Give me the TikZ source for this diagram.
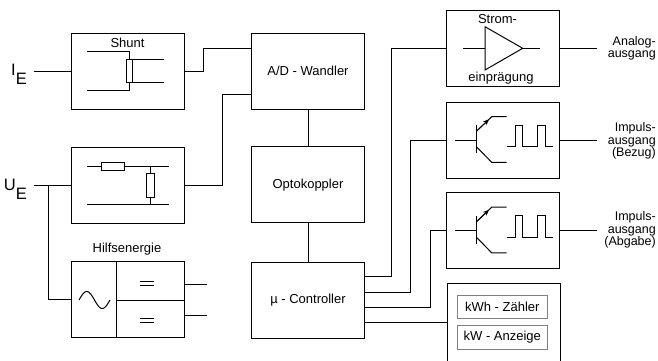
\documentclass[tikz,border=0pt]{standalone}
\usepackage{fontspec}
\setmainfont{Liberation Sans}
\usetikzlibrary{positioning, arrows.meta}

\tikzset{
  block/.style={draw, line width=1pt, minimum width=113pt, minimum height=76pt, inner sep=0pt, font=\fontsize{13}{13}\selectfont},
  wire/.style={line width=1pt},
  part/.style={line width=0.8pt},
  lbl/.style={inner sep=0pt, font=\fontsize{13}{13}\selectfont},
  outlbl/.style={inner sep=0pt, align=right, anchor=east, font=\fontsize{12.5}{12.3}\selectfont},
  biglbl/.style={inner sep=0pt, anchor=base east, font=\fontsize{16.5}{16.5}\selectfont},
  dispbox/.style={draw=gray, line width=0.7pt, minimum width=90pt, minimum height=23.3pt, inner sep=0pt, font=\fontsize{13}{13}\selectfont}
}

\begin{document}
\begin{tikzpicture}[x=1pt, y=-1pt]
            \useasboundingbox (0,0) rectangle (658,360);
            % left column
            \node[block] (shunt) at (127.5,71) {};
            \node[block] (teiler) at (127.5,185) {};
            \node[block] (hilfs) at (127.5,299.5) {};
            \node[lbl] (shuntlbl) at (127.5,42.5) {Shunt};
            \node[lbl] (hilfslbl) at (127,249.5) {Hilfsenergie};
            \node[biglbl] (ie) at (27,75) {I\raisebox{-9pt}{E}};
            \node[biglbl] (ue) at (27,190) {U\raisebox{-9pt}{E}};
            
            % middle column
            \node[block] (adw) at (308,71) {A/D - Wandler};
            \node[block] (opto) at (308,184.7) {Optokoppler};
            \node[block] (muc) at (308,300) {µ - Controller};
            
            % right column
            \node[block] (strom) at (503,48.3) {};
            \node[block] (imp1) at (503,140) {};
            \node[block] (imp2) at (503,230.5) {};
            \node[block, minimum height=80pt] (anz) at (503.5,323.5) {};
            \node[dispbox] (kwh) at (502.3,306.7) {kWh - Zähler};
            \node[dispbox] (kw) at (502.3,337.4) {kW - Anzeige};
            \node[lbl] (stromlbl) at (497.5,19.5) {Strom-};
            \node[lbl] (einlbl) at (501,78) {einprägung};
            \node[outlbl] (analog) at (656,48.5) {Analog-\\ausgang};
            \node[outlbl] (bezug) at (656,141) {Impuls-\\ausgang\\(Bezug)};
            \node[outlbl] (abgabe) at (656,230) {Impuls-\\ausgang\\(Abgabe)};
            
            \coordinate (ad1) at ([yshift=22.7pt]adw.west);
            \coordinate (ad2) at ([yshift=-23pt]adw.west);
            \coordinate (uej) at ([xshift=-22pt]teiler.west);
            
            % inputs
            \draw[wire, shorten <=7pt] (ie.east |- shunt.west) -- (shunt.west);
            \draw[wire, shorten <=7pt] (ue.east |- teiler.west) -- (teiler.west);
            \draw[wire] (uej) |- (hilfs.west);
            \draw[wire] (shunt.east) -- ++(19,0) |- (ad1);
            \draw[wire] (teiler.east) -- ++(38,0) |- (ad2);
            \draw[wire] ([yshift=15.5pt]hilfs.east) -- ++(22.7,0);
            \draw[wire] ([yshift=-15.5pt]hilfs.east) -- ++(22.7,0);
            
            \draw[wire] (adw) -- (opto);
            \draw[wire] (opto) -- (muc);
            
            % controller outputs
            \draw[wire] ([yshift=23.5pt]muc.east) -- ++(26,0) |- (strom.west);
            \draw[wire] ([yshift=8pt]muc.east) -- ++(45.5,0) |- (imp1.west);
            \draw[wire] ([yshift=-7.5pt]muc.east) -- ++(65,0) |- (imp2.west);
            \draw[wire] ([yshift=-22pt]muc.east) -- ([yshift=-22pt]muc.east -| anz.west);
            
            \draw[wire] (strom.east) -- ++(37.4,0);
            \draw[wire] (imp1.east) -- ++(37.4,0);
            \draw[wire] (imp2.east) -- ++(37.4,0);
            
            % shunt
            \draw[wire] (87,51.7) -- (129,51.7) -- (129,59);
            \draw[wire] (87,90.7) -- (129,90.7) -- (129,82);
            \draw[part] (126,59) rectangle (132,82);
            \draw[wire] (132,59.5) -- (164,59.5);
            \draw[wire] (132,82) -- (164,82);
            
            % divider
            \draw[wire] (87,166) -- (101.7,166);
            \draw[part] (101.7,162.7) rectangle (124.3,170);
            \draw[wire] (124.3,166) -- (169.3,166);
            \draw[wire] (150.5,166) -- (150.5,173.3);
            \draw[part] (146.7,173.3) rectangle (154.3,197.7);
            \draw[wire] (150.5,197.7) -- (150.5,204.7);
            \draw[wire] (87,204.7) -- (169.3,204.7);
            
            % power supply
            \draw[wire] (116.7,261.7) -- (116.7,337.3);
            \draw[wire] (116.7,300) -- (184,300);
            \draw[wire] plot[domain=0:360, smooth, samples=40] ({79+\x/360*31},{300-8.5*sin(\x)});
            \foreach \y in {281,285.5,318,322.5}
              \draw[wire] (139.5,\y) -- (154.3,\y);
            
            % current source
            \draw[wire] (463.3,48.3) -- (485,48.3);
            \draw[wire] (485,26.7) -- (522.7,48.3) -- (485,70) -- cycle;
            \draw[wire] (522.7,48.3) -- (540,48.3);
            
            % pulse outputs
            \foreach \c in {140,230.5} {
              \draw[wire] (455,\c) -- (476.7,\c);
              \draw[wire] (476.7,\c-15) -- (476.7,\c+13.3);
              \draw[wire] (476.7,\c-9) -- (491.7,\c-23.3) -- (506.7,\c-23.3);
              \draw[part, -{Stealth[length=6pt, width=5pt]}] (476.7,\c-9) -- (489,\c-20.7);
              \draw[wire] (476.7,\c+7) -- (491.7,\c+22.3) -- (506.7,\c+22.3);
              \draw[wire] (506.7,\c+6.7) -- (515,\c+6.7) -- (515,\c-15) -- (522,\c-15) -- (522,\c+6.7)
                -- (537,\c+6.7) -- (537,\c-15) -- (545,\c-15) -- (545,\c+6.7) -- (553,\c+6.7);
            }
        \end{tikzpicture}
\end{document}
